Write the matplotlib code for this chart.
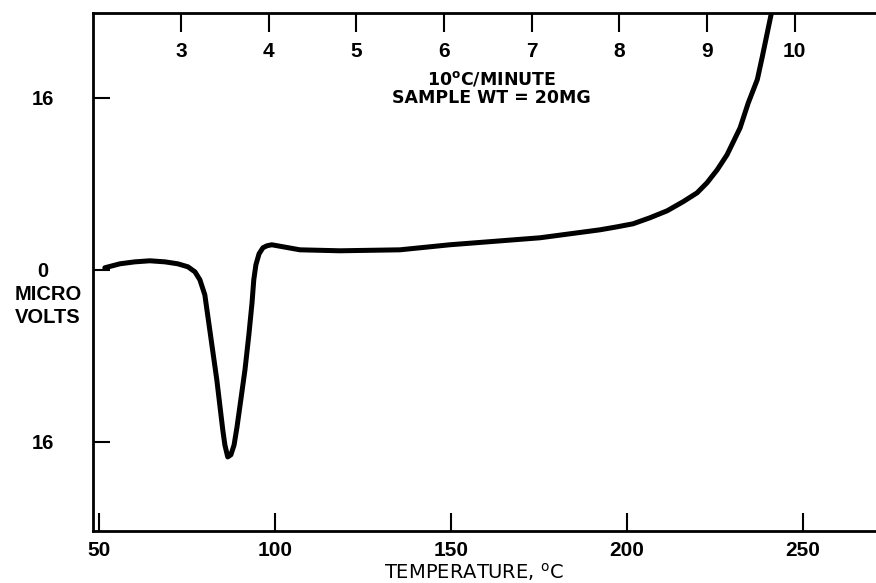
import matplotlib
matplotlib.use("Agg")
import matplotlib.pyplot as plt

plt.rcParams["font.family"] = ["Liberation Sans", "DejaVu Sans"]

# DTA trace: temperature (deg C) vs signal (microvolts)
temp_c = [51.7, 56.0, 60.2, 64.5, 68.8, 72.4, 75.3, 77.3, 78.7, 80.1, 81.5,
          83.5, 85.2, 85.8, 86.6, 87.5, 88.4, 89.2, 90.1, 91.5, 92.6, 93.5,
          94.0, 94.6, 95.5, 96.6, 97.7, 99.1, 107.1, 118.5, 135.5, 149.7,
          175.3, 192.3, 197.2, 201.7, 206.5, 211.4, 215.9, 219.9, 222.7,
          225.6, 228.4, 232.1, 234.4, 237.0, 238.4, 239.8, 241.2]
microvolts = [0.19, 0.56, 0.74, 0.84, 0.74, 0.56, 0.28, -0.19, -0.93, -2.33,
              -5.58, -10.23, -14.9, -16.3, -17.4, -17.2, -16.3, -14.7, -12.6,
              -9.3, -6.05, -3.07, -0.93, 0.47, 1.49, 2.05, 2.23, 2.33, 1.86,
              1.77, 1.86, 2.33, 2.98, 3.72, 4.0, 4.28, 4.84, 5.49, 6.33, 7.16,
              8.09, 9.30, 10.7, 13.2, 15.5, 17.7, 19.8, 22.0, 24.2]

x_ticks = [50, 100, 150, 200, 250]
y_ticks = [-16, 0, 16]
y_tick_labels = ["16", "0", "16"]
# secondary scale printed along the top edge (position in deg C, label)
top_pos = [73.3, 98.2, 123.1, 148.0, 172.9, 197.8, 222.7, 247.6]
top_labels = ["3", "4", "5", "6", "7", "8", "9", "10"]

fig = plt.figure(figsize=(8.76, 5.83), dpi=100)
ax = fig.add_axes([0.106, 0.089, 0.894, 0.889])

ax.plot(temp_c, microvolts, color="black", lw=3.6,
        solid_joinstyle="round", solid_capstyle="round")

ax.set_xlim(48.3, 270.7)
ax.set_ylim(-24.3, 23.9)

for side in ("left", "bottom", "top"):
    ax.spines[side].set_linewidth(2.0)
ax.spines["right"].set_visible(False)

ax.set_xticks(x_ticks)
ax.set_xticklabels([str(v) for v in x_ticks])
ax.set_yticks(y_ticks)
ax.set_yticklabels(y_tick_labels)
ax.tick_params(axis="both", direction="in", width=1.5)
ax.tick_params(axis="x", length=13, pad=7, labelsize=15)
ax.tick_params(axis="y", length=12, pad=36, labelsize=14.5)
for lbl in ax.get_yticklabels() + ax.get_xticklabels():
    lbl.set_fontweight("bold")
for lbl in ax.get_yticklabels():
    lbl.set_ha("center")

ax2 = ax.twiny()
ax2.set_xlim(ax.get_xlim())
ax2.set_xticks(top_pos)
ax2.set_xticklabels(top_labels, fontweight="bold")
ax2.tick_params(axis="x", direction="in", length=14, width=1.5,
                labelsize=15, pad=-35)
for side in ("left", "right", "bottom", "top"):
    ax2.spines[side].set_visible(False)

ax.text(-0.0575, 0.4556, "MICRO", transform=ax.transAxes, ha="center",
        va="center", fontsize=14.5, fontweight="bold")
ax.text(-0.0575, 0.413, "VOLTS", transform=ax.transAxes, ha="center",
        va="center", fontsize=14.5, fontweight="bold")

# run conditions, two lines
ax.text(161.6, 17.25, r"10$^{\mathregular{o}}$C/MINUTE", ha="center",
        va="baseline", fontsize=12.5, fontweight="bold", family="DejaVu Sans")
ax.text(161.6, 15.5, "SAMPLE WT = 20MG", ha="center", va="baseline",
        fontsize=12.5, fontweight="bold", family="DejaVu Sans")

fig.text(474 / 876, 1 - 579 / 583, r"TEMPERATURE, $^{\mathregular{o}}$C",
         ha="center", va="baseline", fontsize=14, family="DejaVu Sans")

fig.savefig("out.png", dpi=100)
